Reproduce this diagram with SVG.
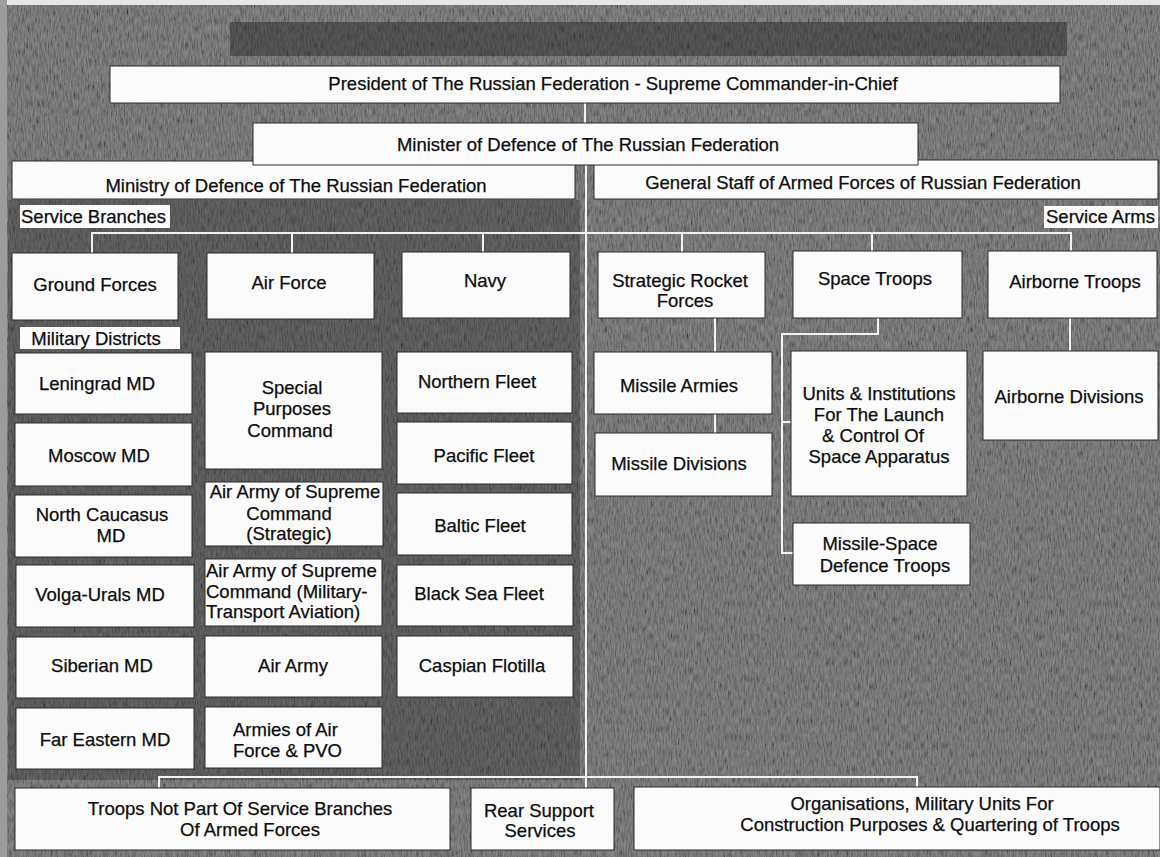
<svg xmlns="http://www.w3.org/2000/svg" width="1160" height="857" viewBox="0 0 1160 857">
<defs>
<filter id="noise" x="0" y="0" width="100%" height="100%">
<feTurbulence type="fractalNoise" baseFrequency="0.7 0.12" numOctaves="3" seed="7"/>
<feColorMatrix type="matrix" values="1.2 0 0 0 -0.15  1.2 0 0 0 -0.15  1.2 0 0 0 -0.15  0 0 0 0 1"/>
</filter>
<style>
.bg{fill:#585858}
.box{fill:#fbfbfb;stroke:#2a2a2a;stroke-width:1}
.t{font-family:"Liberation Sans",Arial,sans-serif;font-size:18.5px;fill:#0c0c0c;stroke:#0c0c0c;stroke-width:0.25;text-anchor:middle}
.s{text-anchor:start}
.conn path{stroke:#f2f2f2;stroke-width:2;fill:none}
</style>
</defs>
<g id="background">
<rect class="bg" x="0" y="0" width="1160" height="857"/>
<rect x="0" y="0" width="1160" height="857" filter="url(#noise)" opacity="0.35"/>
<rect x="8" y="200" width="572" height="580" fill="#1a1a1a" opacity="0.3"/>
<rect x="230" y="22" width="837" height="34" fill="#1e1e1e" opacity="0.45"/>
<rect x="0" y="0" width="1160" height="5" fill="#e6e6e6"/>
<rect x="0" y="0" width="7" height="857" fill="#9c9c9c"/>
</g>
<g class="conn" id="connectors">
<path d="M585 103 V123"/>
<path d="M586 165 V788"/>
<path d="M91 233 H1072"/>
<path d="M92 233 V253"/>
<path d="M292 233 V253"/>
<path d="M483 233 V252"/>
<path d="M682 233 V252"/>
<path d="M872 233 V251"/>
<path d="M1071 233 V251"/>
<path d="M715 318 V352"/>
<path d="M715 414 V433"/>
<path d="M878 318 V334 H782 V553 H793"/>
<path d="M782 422 H791"/>
<path d="M1070 318 V351"/>
<path d="M159 788 V777 H917 V787"/>
</g>
<g id="ministry"><rect class="box" x="12" y="161" width="563" height="38"/><text class="t" x="296" y="192">Ministry of Defence of The Russian Federation</text></g>
<g id="general-staff"><rect class="box" x="594" y="160" width="564" height="39"/><text class="t" x="863" y="189">General Staff of Armed Forces of Russian Federation</text></g>
<g id="minister"><rect class="box" x="253" y="123" width="665" height="42"/><text class="t" x="588" y="151">Minister of Defence of The Russian Federation</text></g>
<g id="president"><rect class="box" x="110" y="66" width="950" height="37"/><text class="t" x="613" y="90">President of The Russian Federation - Supreme Commander-in-Chief</text></g>
<g id="service-branches"><rect class="box" x="20" y="205" width="150" height="23" style="stroke:none"/><text class="t s" x="21" y="223">Service Branches</text></g>
<g id="service-arms"><rect class="box" x="1044" y="206" width="114" height="22" style="stroke:none"/><text class="t s" x="1046" y="223">Service Arms</text></g>
<g id="ground-forces"><rect class="box" x="12" y="253" width="166" height="67"/><text class="t" x="95" y="291">Ground Forces</text></g>
<g id="air-force"><rect class="box" x="207" y="253" width="167" height="66"/><text class="t" x="289" y="289">Air Force</text></g>
<g id="navy"><rect class="box" x="402" y="252" width="168" height="66"/><text class="t" x="485" y="287">Navy</text></g>
<g id="strategic-rocket-forces"><rect class="box" x="598" y="252" width="167" height="66"/><text class="t" x="680" y="287">Strategic Rocket</text><text class="t" x="685" y="307">Forces</text></g>
<g id="space-troops"><rect class="box" x="793" y="251" width="169" height="67"/><text class="t" x="875" y="285">Space Troops</text></g>
<g id="airborne-troops"><rect class="box" x="988" y="251" width="169" height="67"/><text class="t" x="1075" y="288">Airborne Troops</text></g>
<g id="military-districts"><rect class="box" x="20" y="327" width="160" height="22" style="stroke:none"/><text class="t" x="96" y="345">Military Districts</text></g>
<g id="leningrad-md"><rect class="box" x="15" y="353" width="177" height="61"/><text class="t" x="97" y="390">Leningrad MD</text></g>
<g id="moscow-md"><rect class="box" x="15" y="423" width="177" height="63"/><text class="t" x="99" y="462">Moscow MD</text></g>
<g id="north-caucasus-md"><rect class="box" x="15" y="495" width="177" height="62"/><text class="t" x="102" y="521">North Caucasus</text><text class="t" x="111" y="542">MD</text></g>
<g id="volga-urals-md"><rect class="box" x="16" y="565" width="178" height="62"/><text class="t" x="100" y="601">Volga-Urals MD</text></g>
<g id="siberian-md"><rect class="box" x="16" y="637" width="178" height="61"/><text class="t" x="102" y="672">Siberian MD</text></g>
<g id="far-eastern-md"><rect class="box" x="16" y="708" width="178" height="61"/><text class="t" x="105" y="746">Far Eastern MD</text></g>
<g id="special-purposes-command"><rect class="box" x="205" y="352" width="177" height="117"/><text class="t" x="292" y="394">Special</text><text class="t" x="292" y="415">Purposes</text><text class="t" x="290" y="437">Command</text></g>
<g id="air-army-strategic"><rect class="box" x="205" y="482" width="178" height="64"/><text class="t" x="295" y="498">Air Army of Supreme</text><text class="t" x="289" y="520">Command</text><text class="t" x="289" y="540">(Strategic)</text></g>
<g id="air-army-mta"><rect class="box" x="205" y="559" width="177" height="67"/><text class="t s" x="206" y="577">Air Army of Supreme</text><text class="t s" x="206" y="598">Command (Military-</text><text class="t s" x="206" y="618">Transport Aviation)</text></g>
<g id="air-army"><rect class="box" x="205" y="636" width="177" height="61"/><text class="t" x="293" y="672">Air Army</text></g>
<g id="armies-air-force-pvo"><rect class="box" x="205" y="707" width="177" height="61"/><text class="t s" x="233" y="736">Armies of Air</text><text class="t s" x="233" y="757">Force &amp; PVO</text></g>
<g id="northern-fleet"><rect class="box" x="397" y="352" width="175" height="61"/><text class="t" x="477" y="388">Northern Fleet</text></g>
<g id="pacific-fleet"><rect class="box" x="397" y="422" width="175" height="62"/><text class="t" x="484" y="462">Pacific Fleet</text></g>
<g id="baltic-fleet"><rect class="box" x="397" y="493" width="175" height="62"/><text class="t" x="480" y="532">Baltic Fleet</text></g>
<g id="black-sea-fleet"><rect class="box" x="397" y="565" width="176" height="61"/><text class="t" x="479" y="600">Black Sea Fleet</text></g>
<g id="caspian-flotilla"><rect class="box" x="397" y="636" width="176" height="61"/><text class="t" x="482" y="672">Caspian Flotilla</text></g>
<g id="missile-armies"><rect class="box" x="594" y="352" width="178" height="62"/><text class="t" x="679" y="392">Missile Armies</text></g>
<g id="missile-divisions"><rect class="box" x="595" y="433" width="177" height="63"/><text class="t" x="679" y="470">Missile Divisions</text></g>
<g id="units-institutions"><rect class="box" x="791" y="351" width="176" height="145"/><text class="t" x="879" y="400">Units &amp; Institutions</text><text class="t" x="879" y="421">For The Launch</text><text class="t" x="873" y="442">&amp; Control Of</text><text class="t" x="879" y="463">Space Apparatus</text></g>
<g id="missile-space-defence"><rect class="box" x="793" y="523" width="177" height="62"/><text class="t" x="880" y="550">Missile-Space</text><text class="t" x="885" y="572">Defence Troops</text></g>
<g id="airborne-divisions"><rect class="box" x="983" y="351" width="175" height="89"/><text class="t" x="1069" y="403">Airborne Divisions</text></g>
<g id="troops-not-part"><rect class="box" x="15" y="788" width="435" height="62"/><text class="t" x="240" y="815">Troops Not Part Of Service Branches</text><text class="t" x="250" y="836">Of Armed Forces</text></g>
<g id="rear-support"><rect class="box" x="471" y="788" width="143" height="62"/><text class="t" x="539" y="817">Rear Support</text><text class="t" x="540" y="837">Services</text></g>
<g id="organisations"><rect class="box" x="634" y="787" width="526" height="63"/><text class="t" x="922" y="810">Organisations, Military Units For</text><text class="t" x="930" y="831">Construction Purposes &amp; Quartering of Troops</text></g>
</svg>
